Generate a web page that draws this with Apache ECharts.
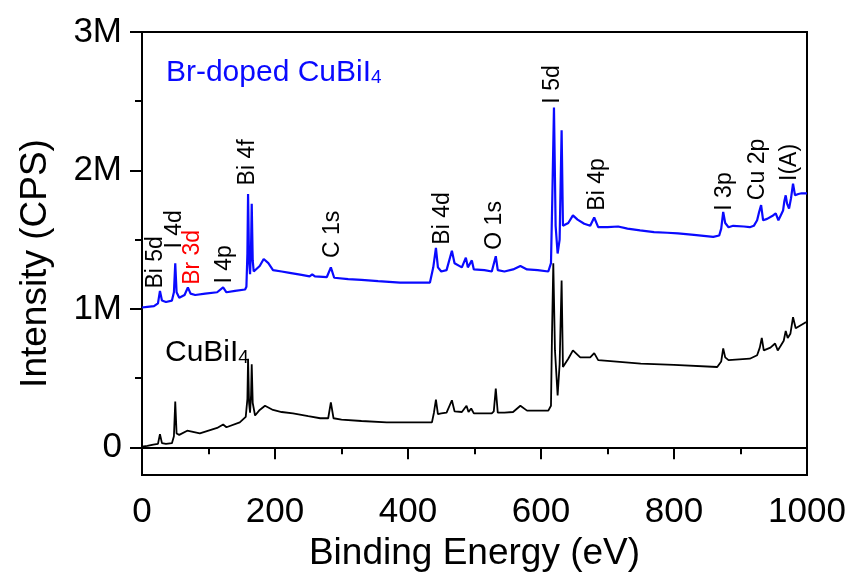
<!DOCTYPE html>
<html>
<head>
<meta charset="utf-8">
<script src="https://cdn.jsdelivr.net/npm/echarts@6/dist/echarts.min.js"></script>
<style>
html, body { margin: 0; padding: 0; background: #fff; }
#main { width: 855px; height: 583px; }
</style>
</head>
<body>
<div id="main"></div>
<script>
// binding energy (eV) and intensity (millions of CPS)
var dopedE = [0, 8, 18, 24, 27, 30, 36, 45, 48, 50, 52, 56, 64, 69, 73, 80, 95, 113, 122, 127, 140, 155,
  157, 158.5, 159.5, 161, 162.5, 164, 165, 166.5, 168, 177, 183, 190, 197, 210, 222, 240, 252, 256, 260,
  278, 284, 289, 310, 330, 355, 388, 420, 433, 438, 442, 445, 450, 458, 466, 470, 481, 487, 490, 493, 496,
  499, 515, 526, 529, 532, 535, 545, 558, 569, 579, 595, 611, 615, 617, 619.5, 622, 625, 628, 631, 633,
  641, 648, 655, 665, 674, 680, 686, 700, 716, 730, 749, 770, 790, 806, 830, 859, 868, 871, 874, 877, 882,
  889, 905, 914, 920, 925, 928, 931, 934, 940, 949, 953, 957, 961, 964, 966, 968, 970, 973, 976, 979, 982,
  987, 992, 1000];
var dopedI = [1.01, 1.015, 1.02, 1.04, 1.13, 1.06, 1.05, 1.06, 1.12, 1.33, 1.12, 1.08, 1.10, 1.155, 1.11,
  1.10, 1.11, 1.12, 1.155, 1.12, 1.13, 1.14,
  1.16, 1.40, 1.83, 1.35, 1.25, 1.45, 1.76, 1.35, 1.27, 1.31, 1.36, 1.33, 1.28, 1.27, 1.26, 1.245, 1.235,
  1.25, 1.235, 1.23, 1.30, 1.225, 1.215, 1.21, 1.20, 1.19, 1.19, 1.19, 1.30, 1.44, 1.30, 1.27, 1.28, 1.42,
  1.33, 1.30, 1.37, 1.30, 1.30, 1.35, 1.285, 1.28, 1.27, 1.28, 1.38, 1.28, 1.27, 1.285, 1.31, 1.285, 1.28,
  1.27, 1.33, 1.80, 2.455, 1.60, 1.40, 1.50, 2.29, 1.60, 1.62, 1.675, 1.645, 1.615, 1.60, 1.66, 1.59, 1.59,
  1.595, 1.58, 1.567, 1.555, 1.55, 1.545, 1.535, 1.52, 1.53, 1.58, 1.70, 1.62, 1.59, 1.60, 1.595, 1.59,
  1.60, 1.64, 1.70, 1.75, 1.64, 1.65, 1.675, 1.69, 1.64, 1.68, 1.71, 1.78, 1.82, 1.76, 1.725, 1.80, 1.905,
  1.82, 1.83, 1.835, 1.835];

var pureE = [0, 8, 17, 24, 27, 30, 36, 45, 48, 50, 52, 56, 68, 87, 100, 113, 122, 127, 147, 156, 158.5,
  159.5, 161, 162.5, 164, 165, 166.5, 170, 177, 185, 197, 210, 227, 250, 268, 280, 284, 288, 300, 330, 368,
  400, 436, 439, 442, 445, 450, 458, 466, 470, 481, 488, 491, 495, 499, 515, 526, 529, 532, 535, 545, 558,
  569, 579, 595, 611, 615, 616.5, 618.5, 621, 625, 628, 631, 633, 641, 648, 659, 674, 680, 686, 700, 750,
  800, 865, 871, 874, 877, 882, 914, 925, 929, 932, 935, 945, 952, 956, 960, 965, 968, 971, 975, 979, 983,
  990, 997, 1000];
var pureI = [0.005, 0.01, 0.02, 0.025, 0.095, 0.03, 0.025, 0.03, 0.08, 0.33, 0.10, 0.09, 0.12, 0.10, 0.12,
  0.14, 0.165, 0.145, 0.18, 0.22, 0.35, 0.64, 0.32, 0.25, 0.38, 0.60, 0.32, 0.23, 0.27, 0.30, 0.27, 0.255,
  0.245, 0.225, 0.21, 0.21, 0.325, 0.21, 0.20, 0.19, 0.18, 0.18, 0.18, 0.25, 0.345, 0.24, 0.245, 0.25, 0.34,
  0.26, 0.255, 0.30, 0.255, 0.28, 0.245, 0.245, 0.245, 0.26, 0.425, 0.25, 0.25, 0.255, 0.30, 0.265, 0.265,
  0.265, 0.30, 0.80, 1.33, 0.70, 0.375, 0.60, 1.205, 0.58, 0.64, 0.70, 0.65, 0.65, 0.68, 0.63, 0.625, 0.605,
  0.595, 0.58, 0.62, 0.715, 0.65, 0.63, 0.64, 0.665, 0.72, 0.79, 0.70, 0.72, 0.75, 0.70, 0.73, 0.77, 0.84,
  0.79, 0.82, 0.94, 0.86, 0.88, 0.90, 0.905];

// peak labels and where their centres sit (eV, M CPS)
var peakNames = ['Bi 5d', 'I 4d', 'Br 3d', 'I 4p', 'Bi 4f', 'C 1s', 'Bi 4d', 'O 1s', 'I 5d', 'Bi 4p',
  'I 3p', 'Cu 2p', 'I(A)'];
var peakE = [21, 49.6, 76.7, 124.8, 159.4, 287.2, 452.6, 530.8, 618, 685.7, 876.7, 926.3, 974.4];
var peakI = [1.336, 1.574, 1.372, 1.321, 2.058, 1.538, 1.653, 1.603, 2.621, 1.899, 1.848, 2.007, 2.058];

var majorTicks = [0, 1, 2, 3];
var minorTicks = [0.5, 1.5, 2.5];

var FONT = 'Liberation Sans';
var BLUE = '#0a0aff';

function pairs(xs, ys) {
  return xs.map(function (x, i) { return [x, ys[i]]; });
}

var peakData = peakNames.map(function (n, i) {
  var item = { name: n, value: [peakE[i], peakI[i]] };
  if (n === 'Br 3d') item.label = { color: '#ff0000' };
  return item;
});

// invisible markers that only carry text
var textHolder = { type: 'scatter', silent: true, symbolSize: 1, z: 5,
  itemStyle: { color: 'transparent', opacity: 1 } };

var option = {
  animation: false,
  grid: { left: 142, right: 48, top: 32, bottom: 108, show: true, borderColor: '#000', borderWidth: 2 },
  xAxis: {
    type: 'value', min: 0, max: 1000, interval: 200,
    name: 'Binding Energy (eV)', nameLocation: 'middle', nameGap: 58,
    nameTextStyle: { fontFamily: FONT, fontSize: 37, color: '#000' },
    axisLine: { lineStyle: { color: '#000', width: 2 } },
    axisTick: { inside: false, length: 12, lineStyle: { color: '#000', width: 2 } },
    minorTick: { show: true, splitNumber: 2, length: 7, lineStyle: { color: '#000', width: 2 } },
    axisLabel: {
      fontFamily: FONT, fontSize: 35, color: '#000', margin: 20,
      formatter: function (v) { return String(v); }
    },
    splitLine: { show: false }
  },
  yAxis: [{
    type: 'value', min: -0.2, max: 3, position: 'left',
    name: 'Intensity (CPS)', nameLocation: 'middle', nameGap: 88,
    nameTextStyle: { fontFamily: FONT, fontSize: 37, color: '#000', padding: [0, 20, 0, 0] },
    axisLine: { show: true, lineStyle: { color: '#000', width: 2 } },
    axisTick: { show: true, length: 12, customValues: majorTicks, lineStyle: { color: '#000', width: 2 } },
    axisLabel: {
      fontFamily: FONT, fontSize: 35, color: '#000', margin: 20, customValues: majorTicks,
      formatter: function (v) { return v === 0 ? '0' : v + 'M'; }
    },
    splitLine: { show: false }
  }, {
    type: 'value', min: -0.2, max: 3, position: 'left',
    axisLine: { show: false },
    axisTick: { show: true, length: 7, customValues: minorTicks, lineStyle: { color: '#000', width: 2 } },
    axisLabel: { show: false },
    splitLine: { show: false }
  }],
  series: [{
    name: 'Br-doped CuBiI4', type: 'line', data: pairs(dopedE, dopedI),
    showSymbol: false, lineStyle: { color: BLUE, width: 2.2 }, z: 3
  }, {
    name: 'CuBiI4', type: 'line', data: pairs(pureE, pureI),
    showSymbol: false, lineStyle: { color: '#000', width: 1.8 }, z: 2
  }, Object.assign({}, textHolder, {
    data: peakData,
    label: {
      show: true, position: 'inside', rotate: 90, formatter: '{b}',
      fontFamily: FONT, fontSize: 23, color: '#000', textBorderWidth: 0
    }
  }), Object.assign({}, textHolder, {
    data: [
      { value: [36, 2.708], label: { formatter: '{a|Br-doped CuBiI}{s|4}', color: BLUE } },
      { value: [34.6, 0.686], label: { formatter: '{a|CuBiI}{s|4}', color: '#000' } }
    ],
    label: {
      show: true, position: 'inside', align: 'left', textBorderWidth: 0,
      rich: {
        a: { fontFamily: FONT, fontSize: 30 },
        s: { fontFamily: FONT, fontSize: 19, verticalAlign: 'bottom' }
      }
    }
  })]
};

var chart = echarts.init(document.getElementById('main'));
chart.setOption(option);
</script>
</body>
</html>
